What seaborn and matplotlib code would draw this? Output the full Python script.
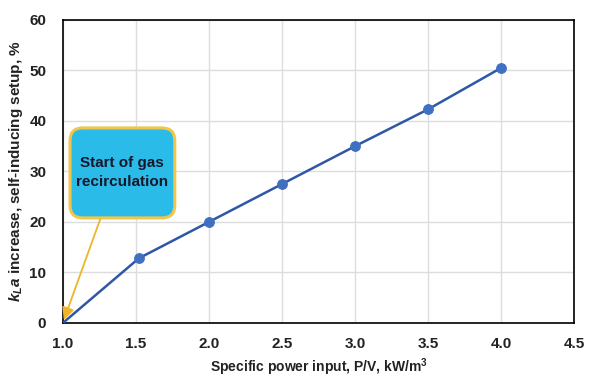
import matplotlib
matplotlib.use("Agg")
import matplotlib.pyplot as plt
from matplotlib.patches import FancyBboxPatch
import seaborn as sns
import pandas as pd

power = [1.0, 1.52, 2.0, 2.5, 3.0, 3.5, 4.0]
kla_increase = [0.0, 12.8, 20.0, 27.5, 35.0, 42.3, 50.5]
x_ticks = [1.0, 1.5, 2.0, 2.5, 3.0, 3.5, 4.0, 4.5]
y_ticks = [0, 10, 20, 30, 40, 50, 60]

sns.set_theme(style="whitegrid")
plt.rcParams['font.family'] = ['Liberation Sans', 'DejaVu Sans']
plt.rcParams['mathtext.fontset'] = 'custom'
plt.rcParams['mathtext.it'] = 'Liberation Sans:bold:italic'
plt.rcParams['mathtext.rm'] = 'Liberation Sans:bold'
plt.rcParams['mathtext.bf'] = 'Liberation Sans:bold'

df = pd.DataFrame({"power": power, "kla": kla_increase})

fig = plt.figure(figsize=(6, 3.83), dpi=100)
ax = fig.add_axes([0.105, 0.157, 0.852, 0.791])

sns.lineplot(data=df, x="power", y="kla", ax=ax, color="#2f57a6", linewidth=1.8,
             marker="o", markersize=7, markerfacecolor="#4070c0", markeredgecolor="#4070c0",
             markevery=list(range(1, len(power))), zorder=3)

ax.set_xlim(1.0, 4.5)
ax.set_ylim(0, 60)
ax.set_xticks(x_ticks)
ax.set_xticklabels([f"{v:.1f}" for v in x_ticks])
ax.set_yticks(y_ticks)
ax.set_yticklabels([str(v) for v in y_ticks])
for lab in ax.get_xticklabels() + ax.get_yticklabels():
    lab.set_fontweight("bold")
    lab.set_fontsize(11)
    lab.set_color("#222222")
ax.tick_params(axis="x", pad=4)
ax.tick_params(axis="y", pad=6)

ax.grid(True, color="#dddddd", linewidth=1)
for s in ax.spines.values():
    s.set_color("black")
    s.set_linewidth(1.2)

ax.set_xlabel(r"Specific power input, P/V, kW/m$^3$", fontsize=10, fontweight="bold",
              color="#222222", labelpad=4)
ax.set_ylabel(r"$k_La$ increase, self-inducing setup, %", fontsize=11, fontweight="bold",
              color="#222222", labelpad=3)

# callout box
aspect = (0.852 * 600) / (0.791 * 383)
box = FancyBboxPatch((0.0137, 0.3465), 0.205, 0.297,
                     boxstyle="round,pad=0,rounding_size=0.025",
                     mutation_aspect=aspect, transform=ax.transAxes,
                     fc="#2bbbe9", ec="#f2c64a", lw=2.2, zorder=4, clip_on=False)
ax.add_patch(box)
ax.text(0.116, 0.497, "Start of gas\nrecirculation", transform=ax.transAxes,
        ha="center", va="center", fontsize=11, fontweight="bold", color="#15182a",
        linespacing=1.45, zorder=5)
ax.annotate("", xy=(1.006, 0.6), xycoords="data",
            xytext=(0.073, 0.343), textcoords="axes fraction",
            arrowprops=dict(arrowstyle="-|>", color="#f0b429", lw=1.3,
                            mutation_scale=18, shrinkA=0, shrinkB=0), zorder=4)

fig.savefig("out.png", dpi=100)
